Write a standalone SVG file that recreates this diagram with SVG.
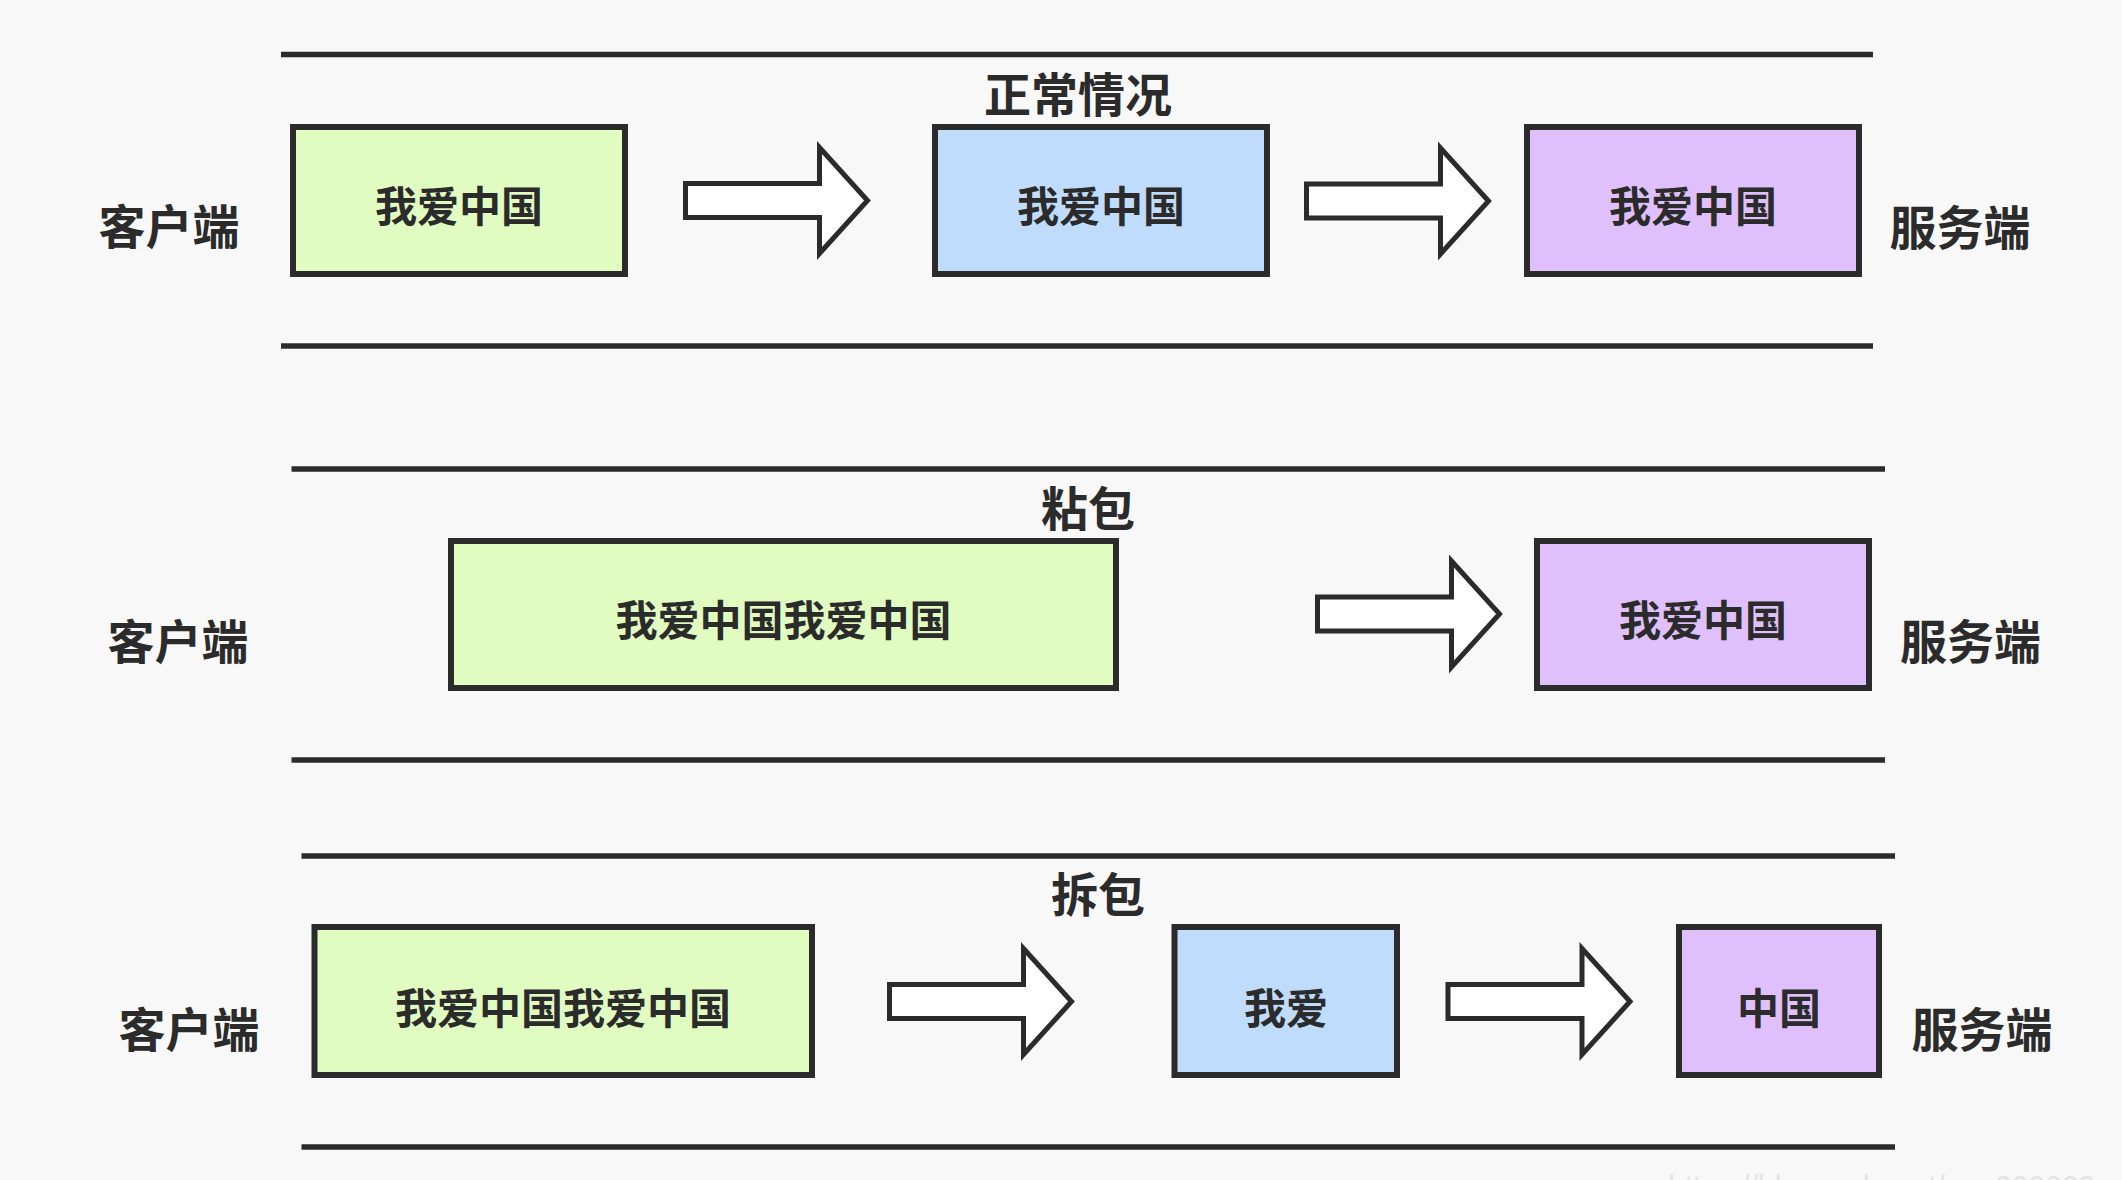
<svg xmlns="http://www.w3.org/2000/svg" xmlns:xlink="http://www.w3.org/1999/xlink" width="2122" height="1180" viewBox="0 0 2122 1180">
<style>
.bg{fill:#f8f8f8}
.sep{stroke:#2b2b2b;stroke-width:5.5;fill:none}
.box{stroke:#2b2b2b;stroke-width:6}
.g{fill:#e0fcc0}
.b{fill:#c0dcfc}
.p{fill:#e0c0fc}
.t{font-family:"Noto Sans CJK SC","Noto Sans",sans-serif;fill:#2b2b2b;text-anchor:middle;font-weight:bold}
.bt{font-size:42px}
.lb{font-size:47px}
.wm{font-family:"Liberation Sans",sans-serif;font-size:30px;fill:#e4e4e4}
</style>
<defs>
<path id="arrow" d="M0,-17 H134 V-53 L182,0 L134,53 V17 H0 Z" fill="#ffffff" stroke="#2b2b2b" stroke-width="5"/>
</defs>
<rect class="bg" x="0" y="0" width="2122" height="1180"/>

<g id="separators">
<line class="sep" x1="281" y1="54.5" x2="1873" y2="54.5"/>
<line class="sep" x1="281" y1="346" x2="1873" y2="346"/>
<line class="sep" x1="291.5" y1="469" x2="1885" y2="469"/>
<line class="sep" x1="291.5" y1="760" x2="1885" y2="760"/>
<line class="sep" x1="301.5" y1="856" x2="1895" y2="856"/>
<line class="sep" x1="301.5" y1="1147" x2="1895" y2="1147"/>
</g>

<g id="labels">
<text class="t lb" x="1078" y="112">正常情况</text>
<text class="t lb" x="1088" y="526">粘包</text>
<text class="t lb" x="1098" y="912">拆包</text>
<text class="t lb" x="169" y="244">客户端</text>
<text class="t lb" x="178" y="659">客户端</text>
<text class="t lb" x="189" y="1047">客户端</text>
<text class="t lb" x="1960" y="245">服务端</text>
<text class="t lb" x="1970.5" y="659">服务端</text>
<text class="t lb" x="1982" y="1047">服务端</text>
</g>

<g id="r1-client">
<rect class="box g" x="293" y="127" width="332" height="147"/>
<text class="t bt" x="459" y="222">我爱中国</text>
</g>
<g id="r1-mid">
<rect class="box b" x="935" y="127" width="332" height="147"/>
<text class="t bt" x="1101" y="222">我爱中国</text>
</g>
<g id="r1-server">
<rect class="box p" x="1527" y="127" width="332" height="147"/>
<text class="t bt" x="1693" y="222">我爱中国</text>
</g>

<g id="r2-client">
<rect class="box g" x="451" y="541" width="665" height="147"/>
<text class="t bt" x="783.5" y="636">我爱中国我爱中国</text>
</g>
<g id="r2-server">
<rect class="box p" x="1537" y="541" width="332" height="147"/>
<text class="t bt" x="1703" y="636">我爱中国</text>
</g>

<g id="r3-client">
<rect class="box g" x="314.5" y="927" width="497.5" height="148"/>
<text class="t bt" x="563" y="1024">我爱中国我爱中国</text>
</g>
<g id="r3-mid">
<rect class="box b" x="1174.5" y="927" width="222.5" height="148"/>
<text class="t bt" x="1286" y="1024">我爱</text>
</g>
<g id="r3-server">
<rect class="box p" x="1679" y="927" width="200" height="148"/>
<text class="t bt" x="1779" y="1024">中国</text>
</g>

<g id="connectors">
<use xlink:href="#arrow" x="685.5" y="200.5"/>
<use xlink:href="#arrow" x="1306.5" y="201"/>
<use xlink:href="#arrow" x="1317.5" y="614"/>
<use xlink:href="#arrow" x="889.5" y="1001.5"/>
<use xlink:href="#arrow" x="1448" y="1001.5"/>
</g>

<text class="wm" x="1668" y="1196">https://blog.csdn.net/qq_000000</text>
</svg>
